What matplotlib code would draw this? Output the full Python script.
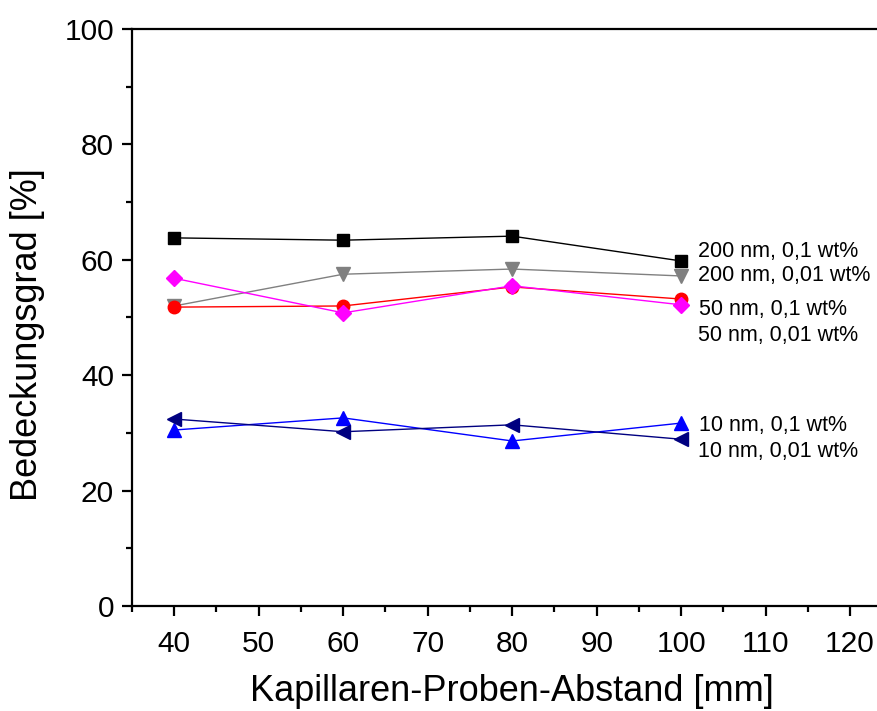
import matplotlib
matplotlib.use('Agg')
import matplotlib.pyplot as plt
from matplotlib.ticker import MultipleLocator

plt.rcParams['font.family'] = ['Liberation Sans', 'DejaVu Sans']

# Kapillaren-Proben-Abstand in mm
abstand = [40, 60, 80, 100]

# Bedeckungsgrad in % for each particle size / concentration
nm200_01 = [63.8, 63.4, 64.1, 59.8]
nm200_001 = [52.0, 57.5, 58.4, 57.2]
nm50_01 = [51.8, 52.0, 55.3, 53.2]
nm50_001 = [56.8, 50.8, 55.5, 52.2]
nm10_01 = [30.5, 32.6, 28.6, 31.7]
nm10_001 = [32.4, 30.2, 31.4, 28.9]

labels = ['200 nm, 0,1 wt%', '200 nm, 0,01 wt%', '50 nm, 0,1 wt%',
          '50 nm, 0,01 wt%', '10 nm, 0,1 wt%', '10 nm, 0,01 wt%']
label_y = [61.5, 57.2, 51.3, 46.8, 31.2, 26.7]
label_x = [102, 102, 102.1, 102, 102.1, 102]

fig = plt.figure(figsize=(8.77, 7.11), dpi=100)
ax = fig.add_axes([0.1505, 0.1477, 0.867, 0.8115])

ax.plot(abstand, nm200_01, color='black', marker='s', ms=8, lw=1)
ax.plot(abstand, nm200_001, color='#808080', marker='v', ms=10, lw=1)
ax.plot(abstand, nm50_01, color='red', marker='o', ms=9, lw=1)
ax.plot(abstand, nm50_001, color='magenta', marker='D', ms=8, lw=1)
ax.plot(abstand, nm10_01, color='blue', marker='^', ms=10, lw=1)
ax.plot(abstand, nm10_001, color='#000080', marker='<', ms=10, lw=1)

for txt, xx, yy in zip(labels, label_x, label_y):
    ax.text(xx, yy, txt, fontsize=15.5, va='center', ha='left')

ax.set_xlim(35, 125)
ax.set_ylim(0, 100)
ax.xaxis.set_major_locator(MultipleLocator(10))
ax.xaxis.set_minor_locator(MultipleLocator(5))
ax.yaxis.set_major_locator(MultipleLocator(20))
ax.yaxis.set_minor_locator(MultipleLocator(10))
ax.set_xticks(range(40, 121, 10))

ax.spines['right'].set_visible(False)
for s in ['left', 'bottom', 'top']:
    ax.spines[s].set_linewidth(1.6)

ax.tick_params(which='major', direction='out', length=7, width=1.6, labelsize=21.5, pad=6)
ax.tick_params(axis='x', which='major', pad=10)
ax.tick_params(which='minor', direction='out', length=4, width=1.6)

ax.set_xlabel('Kapillaren-Proben-Abstand [mm]', fontsize=26, labelpad=12)
ax.set_ylabel('Bedeckungsgrad [%]', fontsize=26, labelpad=14)
ax.yaxis.label.set_y(0.47)

fig.savefig('out.png', dpi=100)
